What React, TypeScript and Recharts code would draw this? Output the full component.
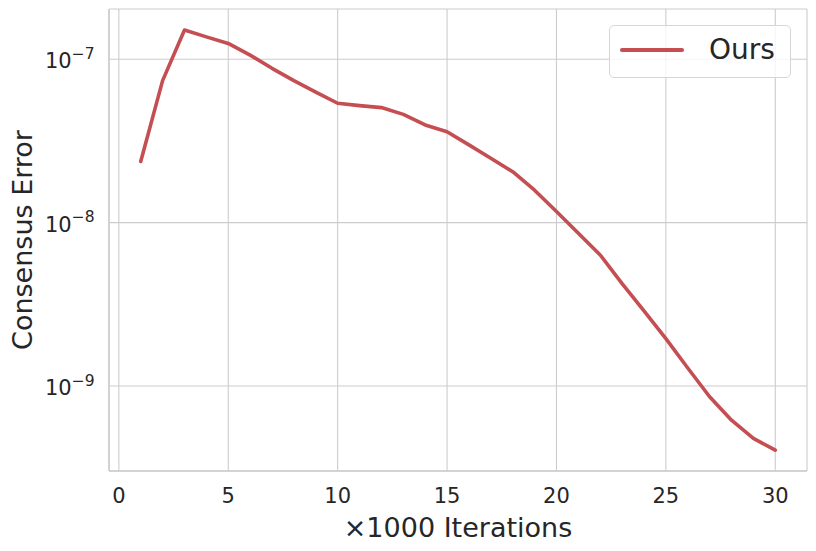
import React from 'react';
import { LineChart, Line, XAxis, YAxis, CartesianGrid, Legend } from 'recharts';

const iterations = [1, 2, 3, 4, 5, 6, 7, 8, 9, 10, 11, 12, 13, 14, 15, 16, 17, 18, 19, 20, 21, 22, 23, 24, 25, 26, 27, 28, 29, 30];
const consensusError = [
  2.37e-8, 7.4e-8, 1.51e-7, 1.37e-7, 1.25e-7, 1.06e-7, 8.8e-8, 7.4e-8, 6.3e-8, 5.38e-8,
  5.2e-8, 5.06e-8, 4.6e-8, 3.96e-8, 3.6e-8, 2.99e-8, 2.48e-8, 2.05e-8, 1.58e-8, 1.17e-8,
  8.6e-9, 6.34e-9, 4.23e-9, 2.88e-9, 1.95e-9, 1.29e-9, 8.6e-10, 6.18e-10, 4.78e-10, 4.05e-10,
];
const xTicks = [0, 5, 10, 15, 20, 25, 30];
const yTicks = [1e-9, 1e-8, 1e-7];
const yExponents = ['−9', '−8', '−7'];
const seriesName = 'Ours';

const data = iterations.map((it, i) => ({ it, err: consensusError[i] }));

const TEXT = '#262626';
const GRID = '#cccccc';
const RED = '#C44E52';
const FONT = 'DejaVu Sans';

const XTick = (props: any) => {
  const { x, y, payload } = props;
  return (
    <text x={x} y={y + 32} textAnchor="middle" fill={TEXT} fontSize={21} fontFamily={FONT}>
      {payload.value}
    </text>
  );
};

const YTick = (props: any) => {
  const { x, y, payload } = props;
  const idx = yTicks.indexOf(payload.value);
  const exp = idx >= 0 ? yExponents[idx] : '';
  return (
    <text x={x - 14.5} y={y + 9} textAnchor="end" fill={TEXT} fontSize={21} fontFamily={FONT}>
      <tspan>10</tspan>
      <tspan fontSize={15.5} dy={-9.5}>{exp}</tspan>
    </text>
  );
};

const LegendBox = () => (
  <div
    style={{
      width: 180,
      height: 51,
      border: '1px solid #d6d6d6',
      borderRadius: 5,
      background: 'rgba(255,255,255,0.8)',
      position: 'relative',
      boxSizing: 'content-box',
    }}
  >
    <div style={{ position: 'absolute', left: 10, top: 22, width: 64, height: 4, background: RED, borderRadius: 2 }} />
    <span
      style={{
        position: 'absolute',
        left: 99,
        top: 7,
        fontFamily: FONT,
        fontSize: 28,
        color: TEXT,
        lineHeight: '34px',
      }}
    >
      {seriesName}
    </span>
  </div>
);

export default function App() {
  return (
    <div style={{ position: 'absolute', left: 0, top: 0, width: 816, height: 551, background: '#fff' }}>
      <LineChart width={816} height={551} data={data} margin={{ top: 9, right: 9, left: 0, bottom: 0 }}>
        <CartesianGrid stroke={GRID} strokeWidth={1.1} />
        <XAxis
          dataKey="it"
          type="number"
          domain={[-0.45, 31.45]}
          ticks={xTicks}
          allowDataOverflow
          height={80}
          tickSize={0}
          tickMargin={0}
          tickLine={false}
          axisLine={{ stroke: GRID, strokeWidth: 1.5 }}
          tick={<XTick />}
          interval={0}
          label={{
            content: () => (
              <text x={458} y={537} textAnchor="middle" fill={TEXT} fontSize={27} fontFamily={FONT}>
                ×1000 Iterations
              </text>
            ),
          }}
        />
        <XAxis
          xAxisId="top"
          orientation="top"
          dataKey="it"
          type="number"
          domain={[-0.45, 31.45]}
          height={0}
          tick={false}
          tickLine={false}
          axisLine={{ stroke: GRID, strokeWidth: 1.5 }}
        />
        <YAxis
          type="number"
          scale="log"
          domain={[3.02e-10, 2.03e-7]}
          ticks={yTicks}
          allowDataOverflow
          width={109}
          tickSize={0}
          tickMargin={0}
          tickLine={false}
          axisLine={{ stroke: GRID, strokeWidth: 1.5 }}
          tick={<YTick />}
          interval={0}
          label={{
            content: () => (
              <text
                transform="translate(31.5,240) rotate(-90)"
                textAnchor="middle"
                fill={TEXT}
                fontSize={27}
                fontFamily={FONT}
              >
                Consensus Error
              </text>
            ),
          }}
        />
        <YAxis
          yAxisId="right"
          orientation="right"
          type="number"
          scale="log"
          domain={[3.02e-10, 2.03e-7]}
          width={0}
          tick={false}
          tickLine={false}
          axisLine={{ stroke: GRID, strokeWidth: 1.5 }}
        />
        <Legend
          layout="vertical"
          align="center"
          verticalAlign="middle"
          content={<LegendBox />}
          wrapperStyle={{ position: 'absolute', left: 609, top: 25, width: 182, height: 53 }}
        />
        <Line
          name={seriesName}
          dataKey="err"
          stroke={RED}
          strokeWidth={3.6}
          dot={false}
          activeDot={false}
          type="linear"
          strokeLinejoin="round"
          strokeLinecap="round"
          isAnimationActive={false}
        />
      </LineChart>
    </div>
  );
}
